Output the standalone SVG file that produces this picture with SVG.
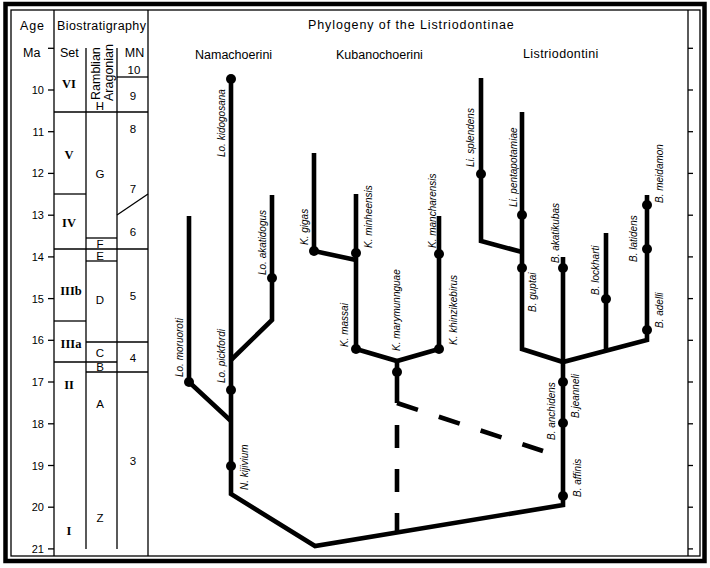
<svg xmlns="http://www.w3.org/2000/svg" width="710" height="568" viewBox="0 0 710 568">
<style>
.frame{fill:none;stroke:#000}
.thin{stroke:#000;stroke-width:1.3;fill:none}
.br{stroke:#000;stroke-width:4.6;fill:none;stroke-linejoin:miter;stroke-linecap:butt}
.dash{stroke:#000;stroke-width:4.6;fill:none}
.dot{fill:#000}
.hd{font-family:"Liberation Sans",Arial,sans-serif;font-size:12.5px;fill:#000}
.ma{font-family:"Liberation Sans",Arial,sans-serif;font-size:11px;fill:#000;text-anchor:end}
.rom{font-family:"Liberation Serif","Times New Roman",serif;font-size:12.5px;font-weight:bold;fill:#000;text-anchor:middle}
.lt{font-family:"Liberation Sans",Arial,sans-serif;font-size:11.5px;fill:#000;text-anchor:middle}
.sp{font-family:"Liberation Sans",Arial,sans-serif;font-size:10px;font-style:italic;fill:#000}
</style>
<rect width="710" height="568" fill="#fff"/>
<g id="frame">
<rect class="frame" x="5.5" y="4" width="699" height="557" stroke-width="4.5"/>
<rect class="frame" x="11" y="10" width="689" height="546" stroke-width="1.3"/>
</g>
<g id="table">
<line class="thin" x1="54" y1="10" x2="54" y2="556"/>
<line class="thin" x1="148" y1="10" x2="148" y2="556"/>
<line class="thin" x1="86" y1="48" x2="86" y2="549"/>
<line class="thin" x1="117" y1="48" x2="117" y2="549"/>
<line class="thin" x1="117" y1="77" x2="148" y2="77"/>
<line class="thin" x1="54" y1="112" x2="148" y2="112"/>
<line class="thin" x1="54" y1="194" x2="86" y2="194"/>
<line class="thin" x1="117" y1="215" x2="148" y2="194"/>
<line class="thin" x1="86" y1="238" x2="117" y2="238"/>
<line class="thin" x1="54" y1="249" x2="148" y2="249"/>
<line class="thin" x1="86" y1="261" x2="117" y2="261"/>
<line class="thin" x1="54" y1="321" x2="86" y2="321"/>
<line class="thin" x1="86" y1="342" x2="148" y2="342"/>
<line class="thin" x1="54" y1="362" x2="117" y2="362"/>
<line class="thin" x1="86" y1="372" x2="148" y2="372"/>
<g id="ma-ticks" class="thin">
<line x1="48" y1="48.3" x2="54" y2="48.3"/>
<line x1="48" y1="90" x2="54" y2="90"/>
<line x1="48" y1="131.7" x2="54" y2="131.7"/>
<line x1="48" y1="173.4" x2="54" y2="173.4"/>
<line x1="48" y1="215.2" x2="54" y2="215.2"/>
<line x1="48" y1="256.9" x2="54" y2="256.9"/>
<line x1="48" y1="298.6" x2="54" y2="298.6"/>
<line x1="48" y1="340.3" x2="54" y2="340.3"/>
<line x1="48" y1="382" x2="54" y2="382"/>
<line x1="48" y1="423.8" x2="54" y2="423.8"/>
<line x1="48" y1="465.5" x2="54" y2="465.5"/>
<line x1="48" y1="507.2" x2="54" y2="507.2"/>
<line x1="48" y1="548.9" x2="54" y2="548.9"/>
</g>
<text class="hd" x="20" y="30" letter-spacing="0.8">Age</text>
<text class="hd" x="57" y="30" letter-spacing="0.4">Biostratigraphy</text>
<text class="hd" x="23" y="57">Ma</text>
<text class="hd" x="60" y="57">Set</text>
<text class="hd" x="134.5" y="57" text-anchor="middle">MN</text>
<text class="lt" x="134" y="74">10</text>
<text class="ma" x="44" y="94">10</text>
<text class="ma" x="44" y="135.7">11</text>
<text class="ma" x="44" y="177.4">12</text>
<text class="ma" x="44" y="219.2">13</text>
<text class="ma" x="44" y="260.9">14</text>
<text class="ma" x="44" y="302.6">15</text>
<text class="ma" x="44" y="344.3">16</text>
<text class="ma" x="44" y="386">17</text>
<text class="ma" x="44" y="427.8">18</text>
<text class="ma" x="44" y="469.5">19</text>
<text class="ma" x="44" y="511.2">20</text>
<text class="ma" x="44" y="552.9">21</text>
<text class="rom" x="69" y="87.5">VI</text>
<text class="rom" x="69" y="158.5">V</text>
<text class="rom" x="69" y="226.5">IV</text>
<text class="rom" x="71" y="294.5">IIIb</text>
<text class="rom" x="71" y="347.5">IIIa</text>
<text class="rom" x="69" y="388.5">II</text>
<text class="rom" x="69" y="534.5">I</text>
<text class="hd" transform="translate(99.5,100) rotate(-90)" font-size="12">Ramblian</text>
<text class="hd" transform="translate(113,101) rotate(-90)" font-size="12">Aragonian</text>
<text class="lt" x="100" y="110">H</text>
<text class="lt" x="100" y="178">G</text>
<text class="lt" x="100" y="248" font-size="10.5">F</text>
<text class="lt" x="100" y="259.5" font-size="10.5">E</text>
<text class="lt" x="100" y="304">D</text>
<text class="lt" x="100" y="357">C</text>
<text class="lt" x="100" y="371" font-size="10.5">B</text>
<text class="lt" x="100" y="408">A</text>
<text class="lt" x="100" y="522">Z</text>
<text class="lt" x="133" y="100">9</text>
<text class="lt" x="133" y="133">8</text>
<text class="lt" x="133" y="193">7</text>
<text class="lt" x="133" y="236">6</text>
<text class="lt" x="133" y="300">5</text>
<text class="lt" x="133" y="362">4</text>
<text class="lt" x="133" y="465">3</text>
</g>
<g id="ruler" class="thin">
<line x1="688" y1="10" x2="688" y2="556"/>
<line x1="688" y1="48.3" x2="693" y2="48.3"/>
<line x1="688" y1="90" x2="693" y2="90"/>
<line x1="688" y1="131.7" x2="693" y2="131.7"/>
<line x1="688" y1="173.4" x2="693" y2="173.4"/>
<line x1="688" y1="215.2" x2="693" y2="215.2"/>
<line x1="688" y1="256.9" x2="693" y2="256.9"/>
<line x1="688" y1="298.6" x2="693" y2="298.6"/>
<line x1="688" y1="340.3" x2="693" y2="340.3"/>
<line x1="688" y1="382" x2="693" y2="382"/>
<line x1="688" y1="423.8" x2="693" y2="423.8"/>
<line x1="688" y1="465.5" x2="693" y2="465.5"/>
<line x1="688" y1="507.2" x2="693" y2="507.2"/>
<line x1="688" y1="548.9" x2="693" y2="548.9"/>
</g>
<g id="headings">
<text class="hd" x="308" y="29" font-size="13" letter-spacing="0.9">Phylogeny of the Listriodontinae</text>
<text class="hd" x="195" y="59">Namachoerini</text>
<text class="hd" x="336" y="59">Kubanochoerini</text>
<text class="hd" x="523" y="58" letter-spacing="0.4">Listriodontini</text>
</g>
<g id="connectors">
<polyline class="br" points="231,79 231,494 315,546 563,505 563,257"/>
<polyline class="br" points="189,216 189,382 231,421"/>
<polyline class="br" points="272,195 272,320 231,360"/>
<polyline class="br" points="314,153 314,251 356,260"/>
<polyline class="br" points="356,194 356,349 397,361 439,349 439,216"/>
<polyline class="br" points="397,361 397,403"/>
<line class="dash" x1="397" y1="403" x2="543" y2="451" stroke-dasharray="22 22"/>
<line class="dash" x1="397" y1="425" x2="397" y2="534" stroke-dasharray="23 21"/>
<polyline class="br" points="481,78 481,241 522,252"/>
<polyline class="br" points="522,112 522,349 563,362 647,340 647,195"/>
<line class="br" x1="606" y1="350.7" x2="606" y2="233"/>
</g>
<g id="nodes">
<circle class="dot" cx="231" cy="79" r="5"/>
<circle class="dot" cx="272" cy="278" r="5"/>
<circle class="dot" cx="189" cy="382" r="5"/>
<circle class="dot" cx="231" cy="390" r="5"/>
<circle class="dot" cx="231" cy="466" r="5"/>
<circle class="dot" cx="314" cy="251" r="5"/>
<circle class="dot" cx="356" cy="253" r="5"/>
<circle class="dot" cx="356" cy="349" r="5"/>
<circle class="dot" cx="397" cy="372" r="5"/>
<circle class="dot" cx="439" cy="254" r="5"/>
<circle class="dot" cx="439" cy="349" r="5"/>
<circle class="dot" cx="481" cy="174" r="5"/>
<circle class="dot" cx="522" cy="215" r="5"/>
<circle class="dot" cx="522" cy="268" r="5"/>
<circle class="dot" cx="563" cy="268" r="5"/>
<circle class="dot" cx="606" cy="299" r="5"/>
<circle class="dot" cx="647" cy="205" r="5"/>
<circle class="dot" cx="647" cy="249" r="5"/>
<circle class="dot" cx="647" cy="330" r="5"/>
<circle class="dot" cx="563" cy="382" r="5"/>
<circle class="dot" cx="563" cy="423" r="5"/>
<circle class="dot" cx="563" cy="496" r="5"/>
</g>
<g id="labels">
<text class="sp" transform="translate(224.5,157) rotate(-90)">Lo. kidogosana</text>
<text class="sp" transform="translate(265.5,275) rotate(-90)">Lo. akatidogus</text>
<text class="sp" transform="translate(182.5,377) rotate(-90)">Lo. moruoroti</text>
<text class="sp" transform="translate(224.5,383) rotate(-90)">Lo. pickfordi</text>
<text class="sp" transform="translate(247.5,490) rotate(-90)">N. kijivium</text>
<text class="sp" transform="translate(307.5,245) rotate(-90)">K. gigas</text>
<text class="sp" transform="translate(371.5,248) rotate(-90)">K. minheensis</text>
<text class="sp" transform="translate(347.5,347) rotate(-90)">K. massai</text>
<text class="sp" transform="translate(399.5,351) rotate(-90)">K. marymunnguae</text>
<text class="sp" transform="translate(435.5,248) rotate(-90)">K. mancharensis</text>
<text class="sp" transform="translate(456.5,345) rotate(-90)">K. khinzikebirus</text>
<text class="sp" transform="translate(473.5,167) rotate(-90)">Li. splendens</text>
<text class="sp" transform="translate(516.5,207) rotate(-90)">Li. pentapotamiae</text>
<text class="sp" transform="translate(558.5,263) rotate(-90)">B. akatikubas</text>
<text class="sp" transform="translate(535.5,312) rotate(-90)">B. guptai</text>
<text class="sp" transform="translate(598.5,295) rotate(-90)">B. lockharti</text>
<text class="sp" transform="translate(636.5,262) rotate(-90)">B. latidens</text>
<text class="sp" transform="translate(662.5,203) rotate(-90)">B. meidamon</text>
<text class="sp" transform="translate(662.5,328) rotate(-90)">B. adelli</text>
<text class="sp" transform="translate(554.5,440) rotate(-90)">B. anchidens</text>
<text class="sp" transform="translate(578.5,418) rotate(-90)">B.jeanneli</text>
<text class="sp" transform="translate(580.5,497) rotate(-90)">B. affinis</text>
</g>
</svg>
